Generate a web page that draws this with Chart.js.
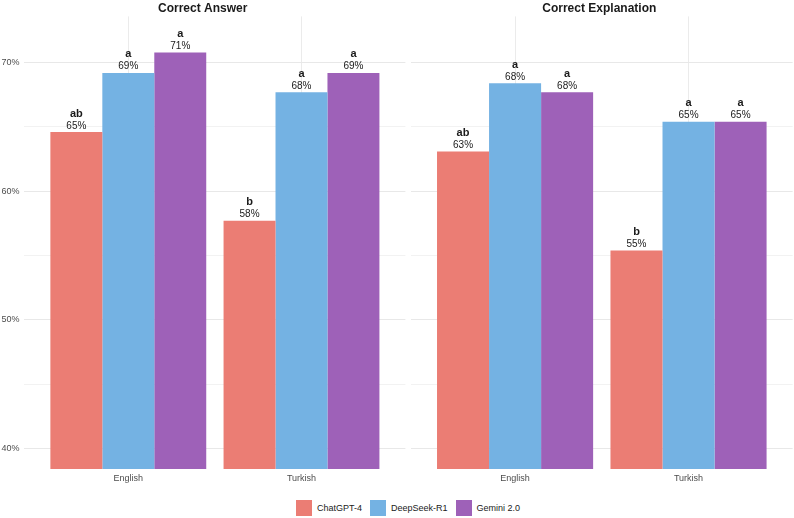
<!DOCTYPE html>
<html>
<head>
<meta charset="utf-8">
<script src="https://cdn.jsdelivr.net/npm/chart.js@4"></script>
<style>
  body { margin: 0; background: #fff; width: 794px; height: 518px; position: relative; overflow: hidden; font-family: "Liberation Sans", Arial, sans-serif; }
  .panel { position: absolute; top: 0; height: 486px; }
  #legend { position: absolute; top: 500px; left: 24px; width: 768px; display: flex; justify-content: center; font-size: 9px; color: #1a1a1a; }
  .item { display: flex; align-items: center; margin: 0 4px; }
  .box { width: 16px; height: 16px; margin-right: 5px; }
</style>
</head>
<body>
<div class="panel" style="left:0; width:406px;"><canvas id="answerChart"></canvas></div>
<div class="panel" style="left:406px; width:388px;"><canvas id="explainChart"></canvas></div>
<div id="legend"></div>

<script>
// Data
const languages = ['English', 'Turkish'];
const models = ['ChatGPT-4', 'DeepSeek-R1', 'Gemini 2.0'];
const modelColors = ['#EB7D74', '#74B2E3', '#9E61B8'];
const yTicks = [40, 45, 50, 55, 60, 65, 70];

// Correct Answer (%), per model: [English, Turkish]
const answerChatGPT = [64.6, 57.7];
const answerDeepSeek = [69.2, 67.7];
const answerGemini = [70.8, 69.2];
const answerLetters = [['ab', 'b'], ['a', 'a'], ['a', 'a']];

// Correct Explanation (%), per model: [English, Turkish]
const explainChatGPT = [63.1, 55.4];
const explainDeepSeek = [68.4, 65.4];
const explainGemini = [67.7, 65.4];
const explainLetters = [['ab', 'b'], ['a', 'a'], ['a', 'a']];

const fontFamily = '"Liberation Sans", Arial, sans-serif';

// Letter + percentage labels above bars
const barLabels = {
  id: 'barLabels',
  afterDatasetsDraw(chart, args, opts) {
    const ctx = chart.ctx;
    ctx.save();
    ctx.textAlign = 'center';
    ctx.textBaseline = 'alphabetic';
    ctx.fillStyle = '#1a1a1a';
    chart.data.datasets.forEach((ds, di) => {
      const meta = chart.getDatasetMeta(di);
      meta.data.forEach((bar, i) => {
        const v = ds.data[i].y;
        ctx.font = '10px ' + fontFamily;
        ctx.fillText(Math.round(v) + '%', bar.x, bar.y - 3.5);
        ctx.font = 'bold 11px ' + fontFamily;
        ctx.fillText(opts.letters[di][i], bar.x, bar.y - 15.5);
      });
    });
    ctx.restore();
  }
};

function makePanel(canvasId, title, series, letters, showY) {
  const ctx = document.getElementById(canvasId).getContext('2d');
  return new Chart(ctx, {
    type: 'bar',
    data: {
      datasets: models.map((m, k) => ({
        label: m,
        data: series[k].map((v, i) => ({ x: i, y: v })),
        backgroundColor: modelColors[k],
        borderWidth: 0,
        categoryPercentage: 0.9,
        barPercentage: 1
      }))
    },
    options: {
      responsive: true,
      maintainAspectRatio: false,
      animation: false,
      layout: { padding: { top: 0, right: showY ? 0.6 : 1.4, bottom: 0, left: 0 } },
      plugins: {
        legend: { display: false },
        tooltip: { enabled: false },
        title: {
          display: true,
          text: title,
          color: '#1a1a1a',
          font: { family: fontFamily, size: 12, weight: 'bold' },
          padding: { top: 1, bottom: 1 }
        },
        barLabels: { letters: letters }
      },
      scales: {
        x: {
          type: 'linear',
          min: -0.6,
          max: 1.6,
          bounds: 'data',
          offset: false,
          afterBuildTicks: (scale) => { scale.ticks = languages.map((l, i) => ({ value: i })); },
          afterFit: (scale) => { scale.height = 17; },
          ticks: {
            callback: (v) => languages[v],
            color: '#4d4d4d',
            padding: 4,
            font: { family: fontFamily, size: 9 }
          },
          grid: { color: '#ebebeb', lineWidth: 1, drawTicks: false, offset: false },
          border: { display: false }
        },
        y: {
          min: 38.4,
          max: 73.6,
          afterBuildTicks: (scale) => { scale.ticks = yTicks.map(v => ({ value: v })); },
          afterFit: (scale) => { scale.width = showY ? 24.4 : 5; },
          ticks: {
            display: showY,
            callback: (v) => (v % 10 === 0 ? v + '%' : ''),
            color: '#4d4d4d',
            padding: 5,
            font: { family: fontFamily, size: 9 }
          },
          grid: {
            color: (c) => (c.tick && c.tick.value % 10 === 0 ? '#e8e8e8' : '#f2f2f2'),
            lineWidth: 1,
            drawTicks: false
          },
          border: { display: false }
        }
      }
    },
    plugins: [barLabels]
  });
}

makePanel('answerChart', 'Correct Answer', [answerChatGPT, answerDeepSeek, answerGemini], answerLetters, true);
makePanel('explainChart', 'Correct Explanation', [explainChatGPT, explainDeepSeek, explainGemini], explainLetters, false);

// Shared legend
const legend = document.getElementById('legend');
models.forEach((m, k) => {
  const item = document.createElement('div');
  item.className = 'item';
  item.innerHTML = `<div class="box" style="background:${modelColors[k]}"></div><span>${m}</span>`;
  legend.appendChild(item);
});
</script>
</body>
</html>
